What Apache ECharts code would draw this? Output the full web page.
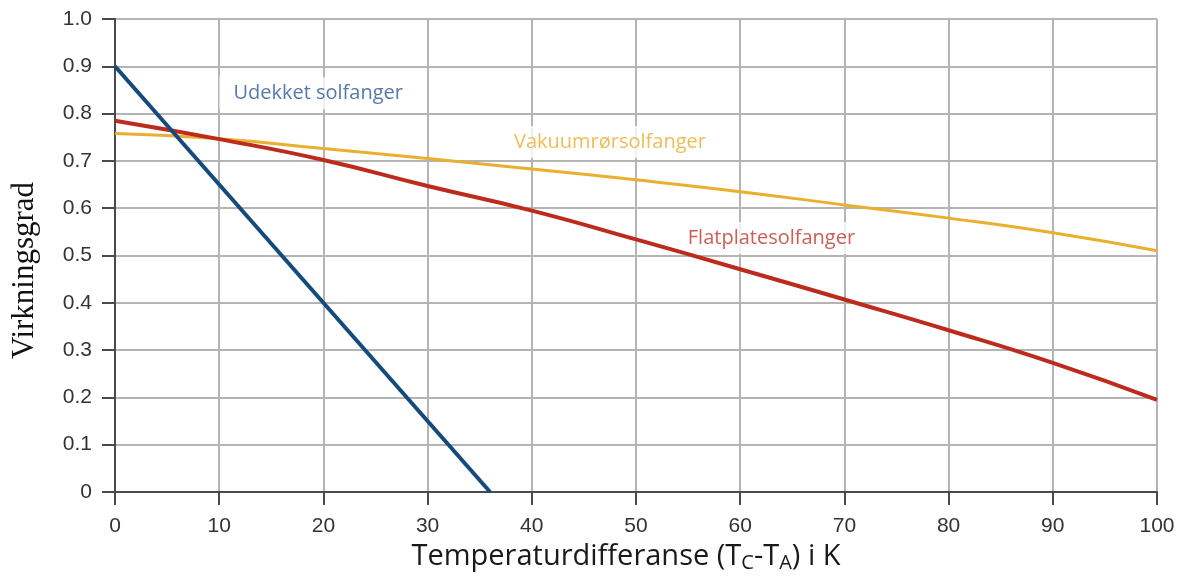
<!DOCTYPE html>
<html>
<head>
<meta charset="utf-8">
<script src="https://cdn.jsdelivr.net/npm/echarts@6/dist/echarts.min.js"></script>
<style>
  html, body { margin: 0; padding: 0; background: #fff; }
  #chart { width: 1184px; height: 577px; }
</style>
</head>
<body>
<div id="chart"></div>
<script>
// Temperature difference (K) at which efficiencies are given
const tempDiff = [0, 10, 20, 30, 40, 50, 60, 70, 80, 90, 100];
// Flat plate collector efficiency
const flatplate = [0.785, 0.746, 0.702, 0.647, 0.595, 0.534, 0.471, 0.407, 0.342, 0.273, 0.195];
// Evacuated tube collector efficiency
const vakuum = [0.758, 0.747, 0.726, 0.705, 0.683, 0.660, 0.635, 0.607, 0.579, 0.548, 0.510];
// Unglazed collector: straight line from 0.9 down to zero at 36 K
const udekketX = [0, 36];
const udekketY = [0.9, 0];

const seriesNames = ['Udekket solfanger', 'Vakuumrørsolfanger', 'Flatplatesolfanger'];
// label anchor positions in data units [x, y]
const labelPos = [[19.5, 0.843], [47.5, 0.740], [63.0, 0.537]];
const labelColors = ['#2a5898', '#e8ad2c', '#bf3628'];

const pair = (xs, ys) => xs.map((x, i) => [x, ys[i]]);

const textFont = '"Open Sans", Lato, sans-serif';
const tickFont = '"Liberation Sans", Arial, sans-serif';
const axisColor = '#4a4a4a';

const chart = echarts.init(document.getElementById('chart'));
chart.setOption({
  animation: false,
  backgroundColor: '#fff',
  grid: { left: 115, right: 27, top: 19, bottom: 85, outerBoundsMode: 'none' },
  xAxis: {
    type: 'value',
    min: 0, max: 100, interval: 10,
    name: '{a|Temperaturdifferanse (T}{s|C}{a|-T}{s|A}{a|) i K}',
    nameLocation: 'middle',
    nameGap: 43,
    nameTextStyle: {
      padding: [0, 20, 0, 0],
      rich: {
        a: { fontFamily: textFont, fontSize: 29, color: '#1a1a1a' },
        s: { fontFamily: textFont, fontSize: 20, color: '#1a1a1a', verticalAlign: 'bottom', padding: [13, 0, 0, 0] }
      }
    },
    axisLine: { show: true, lineStyle: { color: axisColor, width: 2 } },
    axisTick: { show: true, length: 13, lineStyle: { color: axisColor, width: 2 } },
    axisLabel: { margin: 24, color: '#333', fontSize: 21, fontFamily: tickFont },
    splitLine: { show: true, lineStyle: { color: '#b4b4b4', width: 2 } }
  },
  yAxis: {
    type: 'value',
    min: 0, max: 1, interval: 0.1,
    name: 'Virkningsgrad',
    nameLocation: 'middle',
    nameGap: 75,
    nameTextStyle: { fontFamily: '"Liberation Serif", "DejaVu Serif", serif', fontSize: 31, color: '#111', padding: [0, 0, 0, -30] },
    axisLine: { show: true, lineStyle: { color: axisColor, width: 2 } },
    axisTick: { show: true, length: 13, lineStyle: { color: axisColor, width: 2 } },
    axisLabel: {
      margin: 23, color: '#333', fontSize: 21, fontFamily: tickFont,
      formatter: v => (v === 0 ? '0' : v.toFixed(1))
    },
    splitLine: { show: true, lineStyle: { color: '#b4b4b4', width: 2 } }
  },
  series: [
    {
      name: seriesNames[1],
      type: 'line',
      data: pair(tempDiff, vakuum),
      smooth: true,
      showSymbol: false,
      lineStyle: { color: '#e8b02e', width: 3 },
      z: 3
    },
    {
      name: seriesNames[2],
      type: 'line',
      data: pair(tempDiff, flatplate),
      smooth: true,
      showSymbol: false,
      lineStyle: { color: '#bd2b1c', width: 4 },
      z: 4
    },
    {
      name: seriesNames[0],
      type: 'line',
      data: pair(udekketX, udekketY),
      showSymbol: false,
      lineStyle: { color: '#154a7c', width: 4 },
      z: 5
    },
    {
      // series name tags placed on the plot
      type: 'scatter',
      silent: true,
      symbolSize: 1,
      itemStyle: { color: 'rgba(0,0,0,0)' },
      z: 2,
      data: labelPos.map((p, i) => ({
        value: p,
        label: {
          show: true,
          position: 'inside',
          formatter: seriesNames[i],
          color: labelColors[i],
          fontFamily: textFont,
          fontSize: 20,
          backgroundColor: '#fff',
          padding: [6, 14, 6, 14]
        }
      }))
    }
  ]
});
</script>
</body>
</html>
